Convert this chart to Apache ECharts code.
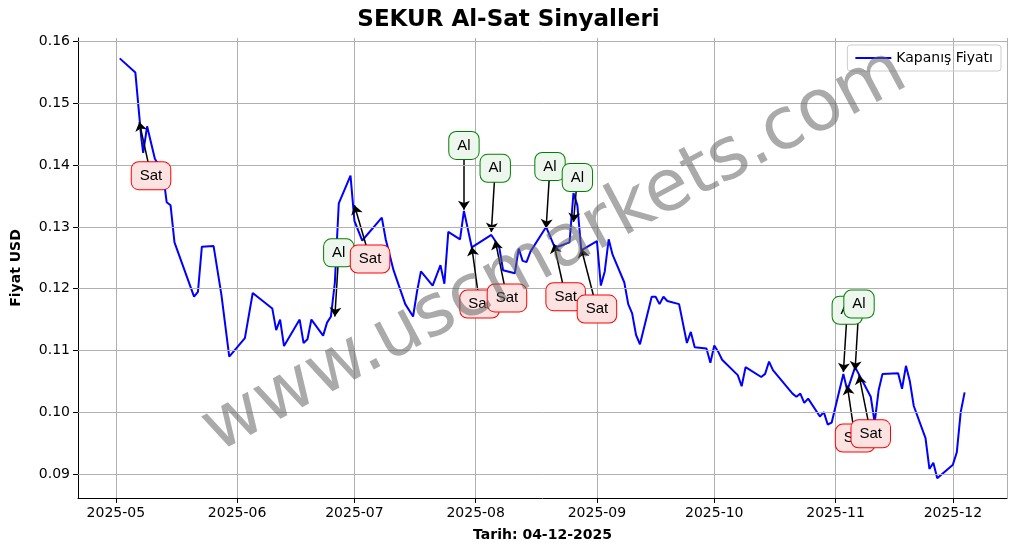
<!DOCTYPE html>
<html><head><meta charset="utf-8">
<script src="https://cdn.jsdelivr.net/npm/echarts@6/dist/echarts.min.js"></script>
<style>html,body{margin:0;padding:0;background:#fff}#c{width:1017px;height:554px}</style>
</head><body><div id="c"></div>
<script>
// kapanış fiyatları
var dates = ['2025-05-02','2025-05-06','2025-05-07','2025-05-07T12:00','2025-05-08','2025-05-09','2025-05-11','2025-05-13','2025-05-14','2025-05-15','2025-05-16','2025-05-21','2025-05-22','2025-05-23','2025-05-26','2025-05-28','2025-05-30','2025-06-03','2025-06-05','2025-06-10','2025-06-11','2025-06-12','2025-06-13','2025-06-17','2025-06-18','2025-06-19','2025-06-20','2025-06-23','2025-06-24','2025-06-25','2025-06-26','2025-06-27','2025-06-30','2025-07-01','2025-07-03','2025-07-08','2025-07-09','2025-07-11','2025-07-14','2025-07-16','2025-07-17','2025-07-18','2025-07-21','2025-07-23','2025-07-24','2025-07-25','2025-07-28','2025-07-29','2025-07-31','2025-08-05','2025-08-07','2025-08-08','2025-08-11','2025-08-12','2025-08-13','2025-08-14','2025-08-15','2025-08-19','2025-08-21','2025-08-22','2025-08-25','2025-08-26','2025-08-27','2025-08-28','2025-09-01','2025-09-02','2025-09-03','2025-09-04','2025-09-05','2025-09-08','2025-09-09','2025-09-10','2025-09-11','2025-09-12','2025-09-15','2025-09-16','2025-09-17','2025-09-18','2025-09-19','2025-09-22','2025-09-24','2025-09-25','2025-09-26','2025-09-29','2025-09-30','2025-10-01','2025-10-02','2025-10-03','2025-10-07','2025-10-08','2025-10-09','2025-10-13','2025-10-14','2025-10-15','2025-10-16','2025-10-21','2025-10-22','2025-10-23','2025-10-24','2025-10-25','2025-10-28','2025-10-29','2025-10-30','2025-10-31','2025-11-03','2025-11-04','2025-11-06','2025-11-10','2025-11-11','2025-11-12','2025-11-13','2025-11-17','2025-11-18','2025-11-19','2025-11-20','2025-11-21','2025-11-24','2025-11-25','2025-11-26','2025-11-27','2025-12-01','2025-12-02','2025-12-03','2025-12-04'];
var prices = [0.1573,0.1550,0.148,0.1445,0.142,0.1463,0.141,0.139,0.134,0.1335,0.1275,0.1187,0.1195,0.1268,0.1269,0.119,0.109,0.112,0.1193,0.1168,0.1133,0.115,0.1107,0.115,0.1112,0.1118,0.115,0.1124,0.1145,0.1155,0.121,0.1338,0.1383,0.131,0.1278,0.1315,0.128,0.123,0.1175,0.1155,0.1195,0.1228,0.1205,0.1238,0.1208,0.1292,0.128,0.1326,0.1267,0.1287,0.1268,0.123,0.1225,0.1265,0.1245,0.1243,0.126,0.130,0.127,0.1268,0.1275,0.1355,0.1335,0.1262,0.1277,0.1205,0.1228,0.128,0.1255,0.121,0.1175,0.116,0.1125,0.111,0.1187,0.1187,0.1175,0.1187,0.118,0.1175,0.1112,0.113,0.1105,0.1103,0.108,0.1108,0.1098,0.1085,0.106,0.1042,0.1073,0.1057,0.1062,0.1082,0.1068,0.103,0.1025,0.103,0.1015,0.1022,0.0993,0.1,0.098,0.0983,0.1062,0.1035,0.1073,0.1025,0.0983,0.1035,0.1062,0.1063,0.1038,0.1075,0.105,0.101,0.0958,0.0908,0.0918,0.0893,0.0915,0.0935,0.1,0.1032];
var yTicks = [0.09, 0.10, 0.11, 0.12, 0.13, 0.14, 0.15, 0.16];

// sinyaller: tür, ok ucu tarihi/fiyatı, etiket tarihi/fiyatı
var sigType = ['Sat','Al','Sat','Al','Sat','Al','Sat','Al','Sat','Al','Sat','Al','Sat','Al','Sat'];
var sigTipDate = ['2025-05-07','2025-06-26','2025-07-01','2025-07-29','2025-07-31','2025-08-05','2025-08-06','2025-08-19','2025-08-21','2025-08-26','2025-08-28','2025-11-03','2025-11-04','2025-11-06','2025-11-07'];
var sigTipVal = [0.147,0.1155,0.1335,0.1328,0.1268,0.1292,0.1278,0.1298,0.1272,0.1308,0.1265,0.1065,0.1043,0.1068,0.106];
var sigTxtDate = ['2025-05-10','2025-06-27','2025-07-05','2025-07-29','2025-08-02','2025-08-06','2025-08-09','2025-08-20','2025-08-24','2025-08-27','2025-09-01','2025-11-04','2025-11-06','2025-11-07','2025-11-10'];
var sigTxtVal = [0.1383,0.1258,0.1248,0.1432,0.1175,0.1395,0.1185,0.1398,0.1187,0.138,0.1167,0.1165,0.0958,0.1175,0.0965];

var lineData = dates.map(function (d, i) { return [d, prices[i]]; });
var arrows = [], boxes = [];
for (var i = 0; i < sigType.length; i++) {
    arrows.push([{coord: [sigTxtDate[i], sigTxtVal[i]]}, {coord: [sigTipDate[i], sigTipVal[i]]}]);
    var al = sigType[i] == 'Al';
    boxes.push({
        coord: [sigTxtDate[i], sigTxtVal[i]], value: sigType[i],
        label: {
            show: true, formatter: sigType[i], color: '#000', fontSize: 15,
            backgroundColor: al ? '#eef7ee' : '#fde2e2',
            borderColor: al ? 'green' : 'red', borderWidth: 1, borderRadius: 7,
            padding: [6, 8], position: 'inside'
        }
    });
}
// yatay kılavuz çizgileri
var gridLines = yTicks.map(function (v) { return {yAxis: v}; });

var chart = echarts.init(document.getElementById('c'));
chart.setOption({
    animation: false,
    title: {text: 'SEKUR Al-Sat Sinyalleri', left: 'center', top: 4,
        textStyle: {fontFamily: 'DejaVu Sans', fontSize: 23, fontWeight: 'bold', color: '#000'}},
    legend: {right: 16, top: 45, data: [{name: 'Kapanış Fiyatı', icon: 'rect'}], itemWidth: 36, itemHeight: 2,
        borderColor: '#ccc', borderWidth: 1, borderRadius: 3, padding: [6, 8],
        textStyle: {fontFamily: 'DejaVu Sans', fontSize: 14, color: '#000'}},
    grid: {left: 78, right: 10, top: 38, bottom: 56},
    xAxis: {
        type: 'time', min: '2025-04-21T08:00', max: '2025-12-14T20:00',
        name: 'Tarih: 04-12-2025', nameLocation: 'middle', nameGap: 30,
        nameTextStyle: {fontFamily: 'DejaVu Sans', fontSize: 14, fontWeight: 'bold', color: '#000'},
        axisLine: {lineStyle: {color: '#000'}}, axisTick: {show: true, lineStyle: {color: '#000'}},
        splitNumber: 8,
        axisLabel: {fontFamily: 'DejaVu Sans', fontSize: 14, color: '#000', hideOverlap: false,
            formatter: function (v) { var d = new Date(v); return d.getUTCDate() == 1 ? d.getUTCFullYear() + '-' + String(d.getUTCMonth() + 1).padStart(2, '0') : ''; }},
        splitLine: {show: true, lineStyle: {color: '#b0b0b0'}}
    },
    yAxis: {
        type: 'value', min: 0.0861, max: 0.1606,
        name: 'Fiyat USD', nameLocation: 'middle', nameGap: 55,
        nameTextStyle: {fontFamily: 'DejaVu Sans', fontSize: 14, fontWeight: 'bold', color: '#000'},
        axisLine: {show: true, lineStyle: {color: '#000'}},
        axisTick: {show: true, customValues: yTicks, lineStyle: {color: '#000'}},
        axisLabel: {fontFamily: 'DejaVu Sans', fontSize: 14, color: '#000', customValues: yTicks,
            formatter: function (v) { return v.toFixed(2); }},
        splitLine: {show: false}
    },
    graphic: [{type: 'text', rotation: Math.PI / 180 * 28, z: 100, x: 225, y: 468,
        style: {text: 'www.uscmarkets.com', fontSize: 72, fontFamily: 'DejaVu Sans', fill: 'rgba(100,100,100,0.55)',
            textVerticalAlign: 'bottom'}}],
    series: [{
        name: 'Kapanış Fiyatı', type: 'line', data: lineData, showSymbol: false,
        lineStyle: {color: 'blue', width: 2}, itemStyle: {color: 'blue'},
        markLine: {silent: true, symbol: ['none', 'arrow'], symbolSize: 9, data: arrows,
            lineStyle: {color: '#000', type: 'solid', width: 1.5}, label: {show: false}},
        markPoint: {symbol: 'rect', symbolSize: 1, itemStyle: {color: 'transparent'}, data: boxes}
    }, {
        type: 'line', data: [], silent: true,
        markLine: {silent: true, symbol: 'none', data: gridLines, label: {show: false},
            lineStyle: {color: '#b0b0b0', type: 'solid', width: 1}}
    }]
});
</script></body></html>
